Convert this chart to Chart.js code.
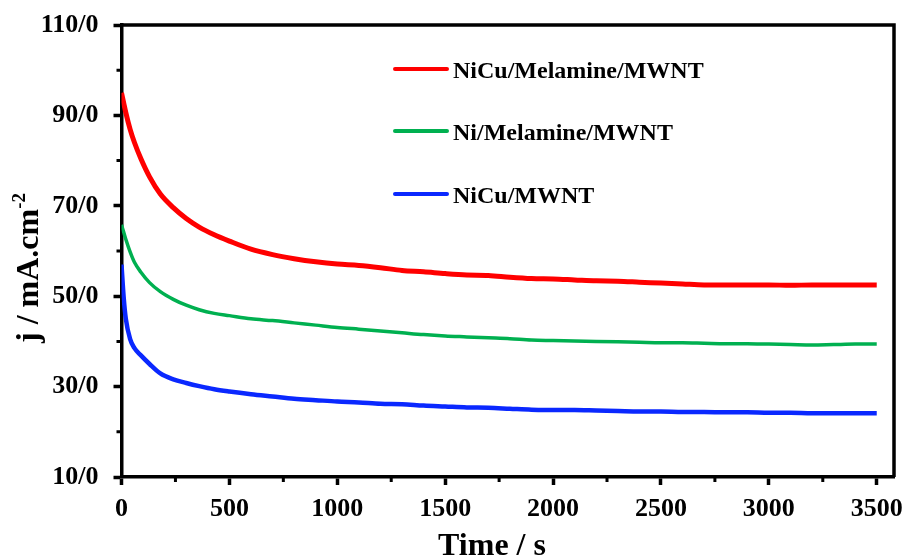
<!DOCTYPE html>
<html>
<head>
<meta charset="utf-8">
<script src="https://cdn.jsdelivr.net/npm/chart.js@4.4.1/dist/chart.umd.min.js"></script>
<style>
  html, body { margin: 0; padding: 0; background: #fff; }
  #wrap { width: 902px; height: 558px; }
</style>
</head>
<body>
<div id="wrap"><canvas id="chrono" width="902" height="558"></canvas></div>
<script>
// tiempo (s) y densidad de corriente (mA/cm2)
const tiempo = [0, 10, 20, 40, 60, 90, 130, 180, 240, 300, 360, 430, 500, 600, 700, 800, 900, 1000,
  1100, 1200, 1300, 1400, 1500, 1600, 1700, 1800, 1900, 2000, 2100, 2200, 2300, 2400, 2500,
  2600, 2700, 2800, 2900, 3000, 3100, 3200, 3300, 3400, 3500];

const nicuMelamina = [95.0, 92.8, 90.6, 86.9, 84.0, 80.4, 76.4, 72.6, 69.6, 67.2, 65.3, 63.6, 62.2,
  60.4, 59.2, 58.3, 57.6, 57.1, 56.8, 56.3, 55.7, 55.4, 55.0, 54.7, 54.6, 54.2, 53.9, 53.8, 53.6,
  53.4, 53.3, 53.1, 52.9, 52.7, 52.5, 52.5, 52.5, 52.5, 52.4, 52.5, 52.5, 52.5, 52.5];

const niMelamina = [65.8, 64.2, 62.6, 59.8, 57.5, 55.3, 53.0, 51.0, 49.3, 48.0, 47.0, 46.2, 45.7,
  45.0, 44.6, 44.1, 43.6, 43.1, 42.7, 42.3, 41.9, 41.5, 41.2, 41.0, 40.8, 40.6, 40.3, 40.2, 40.1,
  40.0, 39.9, 39.8, 39.7, 39.7, 39.6, 39.5, 39.5, 39.4, 39.3, 39.2, 39.3, 39.4, 39.4];

const nicuMwnt = [57.0, 49.8, 45.0, 40.5, 38.5, 36.9, 35.0, 32.9, 31.6, 30.8, 30.1, 29.4, 28.9,
  28.3, 27.8, 27.3, 27.0, 26.7, 26.5, 26.2, 26.1, 25.8, 25.6, 25.4, 25.3, 25.1, 24.9, 24.8, 24.8,
  24.7, 24.6, 24.5, 24.5, 24.4, 24.4, 24.3, 24.3, 24.2, 24.2, 24.1, 24.1, 24.1, 24.1];

const series = [
  { label: 'NiCu/Melamine/MWNT', valores: nicuMelamina, color: '#FF0000', ancho: 5 },
  { label: 'Ni/Melamine/MWNT', valores: niMelamina, color: '#00B050', ancho: 3.5 },
  { label: 'NiCu/MWNT', valores: nicuMwnt, color: '#0A28FF', ancho: 4.5 }
];

const xTicks = [0, 500, 1000, 1500, 2000, 2500, 3000, 3500];
const xMinor = [250, 750, 1250, 1750, 2250, 2750, 3250];
const yTicks = [10, 30, 50, 70, 90, 110];
const yTickLabels = ['10/0', '30/0', '50/0', '70/0', '90/0', '110/0'];
const yMinor = [20, 40, 60, 80, 100];

const FUENTE = "'Liberation Serif', 'Times New Roman', serif";

// bordes superior/derecho, marcas menores, leyenda y titulos
const extras = {
  id: 'extras',
  afterDraw(chart) {
    const { ctx, chartArea: a, scales: { x, y } } = chart;
    ctx.save();
    ctx.strokeStyle = '#000';
    ctx.lineWidth = 3.5;
    ctx.beginPath();
    ctx.moveTo(a.left, a.top);
    ctx.lineTo(a.right, a.top);
    ctx.lineTo(a.right, a.bottom);
    ctx.stroke();

    ctx.lineWidth = 3;
    ctx.beginPath();
    xMinor.forEach(v => {
      const px = x.getPixelForValue(v);
      ctx.moveTo(px, a.bottom);
      ctx.lineTo(px, a.bottom + 5);
    });
    yMinor.forEach(v => {
      const py = y.getPixelForValue(v);
      ctx.moveTo(a.left, py);
      ctx.lineTo(a.left - 5, py);
    });
    ctx.stroke();

    // leyenda
    ctx.font = `bold 24px ${FUENTE}`;
    ctx.textBaseline = 'alphabetic';
    ctx.textAlign = 'left';
    const filas = [69, 131, 194];
    chart.data.datasets.forEach((ds, i) => {
      ctx.strokeStyle = ds.borderColor;
      ctx.lineWidth = 4;
      ctx.lineCap = 'round';
      ctx.beginPath();
      ctx.moveTo(395, filas[i]);
      ctx.lineTo(447, filas[i]);
      ctx.stroke();
      ctx.fillStyle = '#000';
      ctx.fillText(ds.label, 453, filas[i] + 8.5);
    });

    // titulo eje x
    ctx.font = `bold 32px ${FUENTE}`;
    ctx.textAlign = 'center';
    ctx.fillText('Time / s', 492, 555);

    // titulo eje y con superindice
    const base = 'j / mA.cm';
    const sup = '-2';
    ctx.font = `bold 32px ${FUENTE}`;
    const w1 = ctx.measureText(base).width;
    ctx.font = `bold 19px ${FUENTE}`;
    const w2 = ctx.measureText(sup).width;
    ctx.translate(38, 268);
    ctx.rotate(-Math.PI / 2);
    ctx.textAlign = 'left';
    ctx.font = `bold 32px ${FUENTE}`;
    ctx.fillText(base, -(w1 + w2) / 2, 0);
    ctx.font = `bold 19px ${FUENTE}`;
    ctx.fillText(sup, -(w1 + w2) / 2 + w1, -13);
    ctx.restore();
  }
};

new Chart(document.getElementById('chrono'), {
  type: 'line',
  data: {
    datasets: series.map(s => ({
      label: s.label,
      data: tiempo.map((t, i) => ({ x: t, y: s.valores[i] })),
      borderColor: s.color,
      backgroundColor: s.color,
      borderWidth: s.ancho,
      pointRadius: 0,
      cubicInterpolationMode: 'monotone',
      fill: false
    }))
  },
  options: {
    responsive: false,
    animation: false,
    layout: { padding: { top: 25, right: 8, left: 0, bottom: 0 } },
    plugins: { legend: { display: false }, tooltip: { enabled: false } },
    scales: {
      x: {
        type: 'linear',
        min: 0,
        max: 3580,
        afterBuildTicks: s => { s.ticks = xTicks.map(v => ({ value: v })); },
        afterFit: s => { s.height = 81; s.paddingLeft = 0; s.paddingRight = 0; },
        grid: { drawOnChartArea: false, drawTicks: true, tickLength: 8, tickWidth: 3.5, tickColor: '#000' },
        border: { display: true, color: '#000', width: 3.5 },
        ticks: {
          autoSkip: false,
          maxRotation: 0,
          padding: 9,
          color: '#000',
          font: { family: FUENTE, size: 26, weight: 'bold' },
          callback: v => String(v)
        }
      },
      y: {
        min: 10,
        max: 110,
        afterBuildTicks: s => { s.ticks = yTicks.map(v => ({ value: v })); },
        afterFit: s => { s.width = 121.5; s.paddingTop = 0; s.paddingBottom = 0; },
        grid: { drawOnChartArea: false, drawTicks: true, tickLength: 8, tickWidth: 3.5, tickColor: '#000' },
        border: { display: true, color: '#000', width: 3.5 },
        ticks: {
          autoSkip: false,
          padding: 15,
          color: '#000',
          font: { family: FUENTE, size: 26, weight: 'bold' },
          callback: v => yTickLabels[yTicks.indexOf(v)]
        }
      }
    }
  },
  plugins: [extras]
});
</script>
</body>
</html>
